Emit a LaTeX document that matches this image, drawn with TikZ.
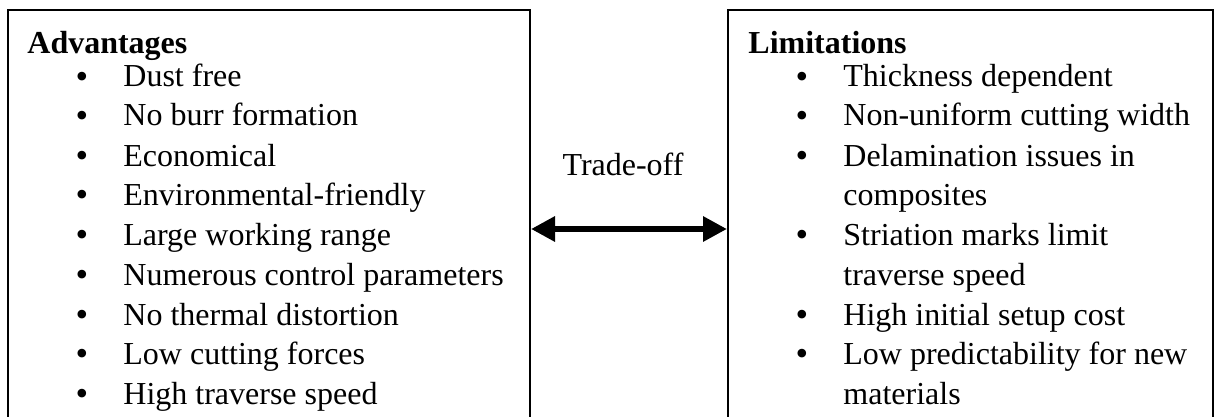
\documentclass[tikz,border=0pt]{standalone}
\usepackage{fontspec}
\setmainfont{Liberation Serif}
\usetikzlibrary{arrows.meta}
\newcommand\boxfont{\fontsize{16pt}{19pt}\selectfont}
\tikzset{
	panel/.style={draw, line width=1pt, anchor=north west, inner sep=0pt},
	head/.style={anchor=base west, inner sep=0pt, font=\boxfont\bfseries},
	item/.style={anchor=base west, inner sep=0pt, font=\boxfont},
	dot/.style={anchor=base, inner sep=0pt, yshift=-0.7pt, font=\fontsize{18pt}{18pt}\selectfont},
	tradeoff/.style={line width=3pt, {Triangle[length=12pt, width=12pt]}-{Triangle[length=12pt, width=12pt]}},
}
\begin{document}
\begin{tikzpicture}[x=0.5pt, y=-0.5pt]
			\useasboundingbox (0,0) rectangle (1215,417);
			\clip (0,0) rectangle (1215,417);
			
			% two boxes, open at the bottom of the page
			\node[panel, minimum width=261pt, minimum height=250pt] (adv) at (7,9) {};
			\node[panel, minimum width=242.5pt, minimum height=250pt] (lim) at (727,9) {};
			
			% Advantages
			\node[head] (advhead) at (27,54) {Advantages};
			\node[dot] (ad1) at (82,87) {\textbullet};  \node[item] (a1) at (123,87) {Dust free};
			\node[dot] (ad2) at (82,126) {\textbullet}; \node[item] (a2) at (123,126) {No burr formation};
			\node[dot] (ad3) at (82,166) {\textbullet}; \node[item] (a3) at (123,166) {Economical};
			\node[dot] (ad4) at (82,205) {\textbullet}; \node[item] (a4) at (123,205) {Environmental-friendly};
			\node[dot] (ad5) at (82,245) {\textbullet}; \node[item] (a5) at (123,245) {Large working range};
			\node[dot] (ad6) at (82,285) {\textbullet}; \node[item] (a6) at (123,285) {Numerous control parameters};
			\node[dot] (ad7) at (82,325) {\textbullet}; \node[item] (a7) at (123,325) {No thermal distortion};
			\node[dot] (ad8) at (82,364) {\textbullet}; \node[item] (a8) at (123,364) {Low cutting forces};
			\node[dot] (ad9) at (82,404) {\textbullet}; \node[item] (a9) at (123,404) {High traverse speed};
			
			% Limitations
			\node[head] (limhead) at (748,54) {Limitations};
			\node[dot] (ld1) at (802,87) {\textbullet};  \node[item] (l1) at (843,87) {Thickness dependent};
			\node[dot] (ld2) at (802,126) {\textbullet}; \node[item] (l2) at (843,126) {Non-uniform cutting width};
			\node[dot] (ld3) at (802,166) {\textbullet}; \node[item] (l3) at (843,166) {Delamination issues in};
			\node[item] (l3b) at (843,205) {composites};
			\node[dot] (ld4) at (802,245) {\textbullet}; \node[item] (l4) at (843,245) {Striation marks limit};
			\node[item] (l4b) at (843,285) {traverse speed};
			\node[dot] (ld5) at (802,325) {\textbullet}; \node[item] (l5) at (843,325) {High initial setup cost};
			\node[dot] (ld6) at (802,364) {\textbullet}; \node[item] (l6) at (843,364) {Low predictability for new};
			\node[item] (l6b) at (843,404) {materials};
			
			% trade-off arrow between the boxes
			\coordinate (mid) at (628,229);
			\node[item, anchor=base] (tolabel) at (623,176) {Trade-off};
			\draw[tradeoff] (adv.east |- mid) -- (lim.west |- mid);
		\end{tikzpicture}
\end{document}
